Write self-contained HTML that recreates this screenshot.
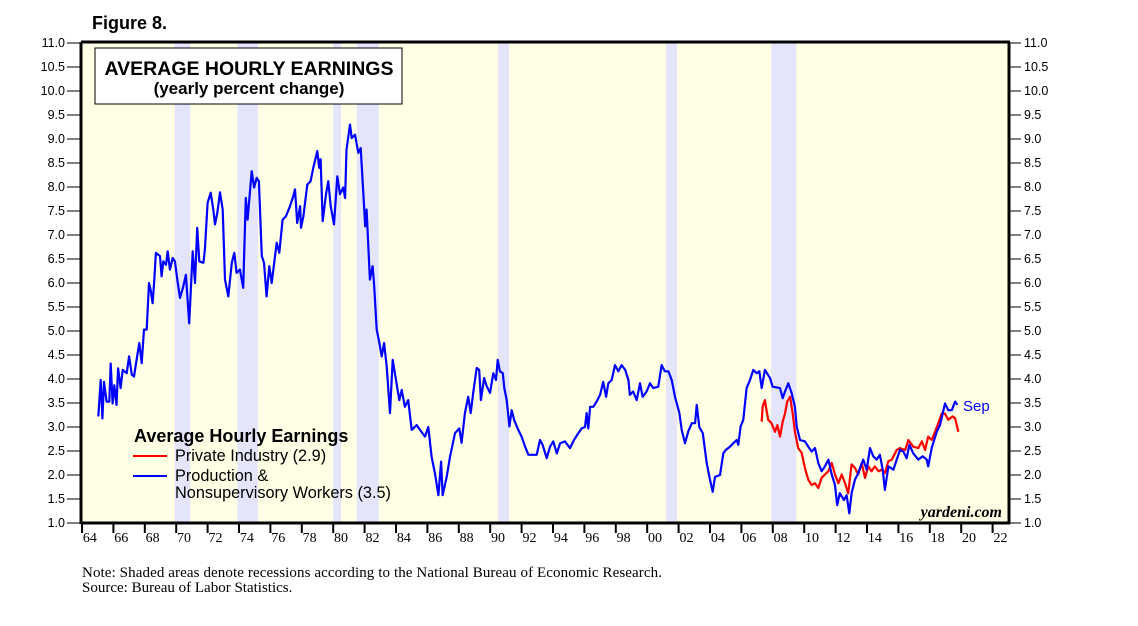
<!DOCTYPE html>
<html><head><meta charset="utf-8"><style>
body{margin:0;background:#fff;width:1138px;height:621px;overflow:hidden;font-family:"Liberation Sans",Arial,sans-serif}
</style></head><body>
<svg id="chart" width="1138" height="621" xmlns="http://www.w3.org/2000/svg">
<text x="92" y="29" font-size="18" font-weight="bold" font-family="Liberation Sans">Figure 8.</text>
<rect x="81" y="43" width="928" height="480" fill="#ffffe6"/>
<g id="rec"></g>
<g id="grid"></g>
<g id="series"></g>
<rect x="81" y="43" width="928" height="480" fill="none" stroke="#000" stroke-width="1"/>
<line x1="81" y1="42" x2="1010" y2="42" stroke="#000" stroke-width="3"/>
<line x1="81" y1="42" x2="81" y2="524" stroke="#000" stroke-width="3"/>
<line x1="81" y1="523" x2="1010" y2="523" stroke="#000" stroke-width="3"/>
<line x1="1009" y1="42" x2="1009" y2="524" stroke="#000" stroke-width="3"/>
<g>
<rect x="95" y="48" width="307" height="56" fill="#fff" stroke="#000" stroke-width="1"/>
<text x="249" y="75" font-size="19.5" font-weight="bold" text-anchor="middle">AVERAGE HOURLY EARNINGS</text>
<text x="249" y="94" font-size="17" font-weight="bold" text-anchor="middle">(yearly percent change)</text>
</g>
<g>
<text x="134" y="442" font-size="18" font-weight="bold">Average Hourly Earnings</text>
<line x1="133" y1="456" x2="167" y2="456" stroke="#f00" stroke-width="2"/>
<text x="175" y="461" font-size="16.3">Private Industry (2.9)</text>
<line x1="133" y1="476" x2="167" y2="476" stroke="#00f" stroke-width="2"/>
<text x="175" y="481" font-size="16.3">Production &amp;</text>
<text x="175" y="498" font-size="16.3">Nonsupervisory Workers (3.5)</text>
</g>
<text x="963" y="411" font-size="15" fill="#00f">Sep</text>
<text x="1002" y="517" font-size="16" font-style="italic" font-weight="bold" text-anchor="end" font-family="Liberation Serif">yardeni.com</text>
<text x="82" y="577" font-size="15" font-family="Liberation Serif" textLength="580">Note: Shaded areas denote recessions according to the National Bureau of Economic Research.</text>
<text x="82" y="592" font-size="15" font-family="Liberation Serif">Source: Bureau of Labor Statistics.</text>
</svg>
<script>
const recessions=[[1969.9,1970.9],[1973.9,1975.2],[1980.0,1980.5],[1981.5,1982.9],[1990.5,1991.2],[2001.2,2001.9],[2007.9,2009.5]];
const yTicks=[1.0,1.5,2.0,2.5,3.0,3.5,4.0,4.5,5.0,5.5,6.0,6.5,7.0,7.5,8.0,8.5,9.0,9.5,10.0,10.5,11.0];
const xTickYears=[1964,1966,1968,1970,1972,1974,1976,1978,1980,1982,1984,1986,1988,1990,1992,1994,1996,1998,2000,2002,2004,2006,2008,2010,2012,2014,2016,2018,2020,2022];
const xTickLabels=["64","66","68","70","72","74","76","78","80","82","84","86","88","90","92","94","96","98","00","02","04","06","08","10","12","14","16","18","20","22"];
const blueYears=[1965.04,1965.19,1965.3,1965.4,1965.57,1965.74,1965.83,1965.95,1966.06,1966.2,1966.3,1966.46,1966.59,1966.85,1967.0,1967.17,1967.31,1967.48,1967.65,1967.8,1967.95,1968.12,1968.27,1968.37,1968.5,1968.59,1968.71,1968.97,1969.07,1969.18,1969.35,1969.46,1969.6,1969.78,1969.92,1970.07,1970.24,1970.45,1970.62,1970.83,1971.05,1971.2,1971.34,1971.47,1971.73,1971.83,1972.0,1972.2,1972.36,1972.47,1972.62,1972.79,1972.96,1973.11,1973.32,1973.54,1973.7,1973.85,1974.06,1974.27,1974.43,1974.55,1974.81,1974.96,1975.13,1975.27,1975.45,1975.59,1975.76,1975.93,1976.08,1976.4,1976.57,1976.78,1976.99,1977.25,1977.46,1977.57,1977.71,1977.89,1977.95,1978.1,1978.35,1978.56,1978.73,1978.99,1979.11,1979.2,1979.33,1979.54,1979.69,1979.84,1980.05,1980.26,1980.43,1980.64,1980.76,1980.85,1981.07,1981.18,1981.39,1981.6,1981.75,1981.92,1982.04,1982.13,1982.34,1982.51,1982.6,1982.77,1982.94,1983.09,1983.24,1983.41,1983.62,1983.79,1984.0,1984.21,1984.36,1984.57,1984.78,1985.0,1985.32,1985.53,1985.85,1986.06,1986.27,1986.48,1986.7,1986.87,1986.97,1987.23,1987.44,1987.76,1988.03,1988.18,1988.39,1988.6,1988.76,1988.92,1989.14,1989.3,1989.41,1989.61,1989.78,1989.99,1990.2,1990.37,1990.48,1990.62,1990.8,1990.9,1991.05,1991.22,1991.37,1991.52,1991.79,1992.0,1992.22,1992.43,1992.75,1992.96,1993.17,1993.34,1993.6,1993.81,1994.02,1994.24,1994.45,1994.76,1995.08,1995.34,1995.61,1995.83,1996.04,1996.14,1996.25,1996.36,1996.57,1996.78,1997.0,1997.2,1997.38,1997.52,1997.74,1997.95,1998.16,1998.37,1998.6,1998.8,1998.9,1999.1,1999.33,1999.54,1999.71,1999.96,2000.18,2000.39,2000.71,2000.92,2001.13,2001.35,2001.56,2001.77,2002.05,2002.2,2002.41,2002.62,2002.84,2003.05,2003.15,2003.32,2003.54,2003.79,2004.0,2004.17,2004.32,2004.64,2004.85,2005.0,2005.27,2005.48,2005.7,2005.8,2005.95,2006.12,2006.33,2006.55,2006.76,2006.97,2007.14,2007.29,2007.5,2007.82,2007.99,2008.46,2008.63,2008.78,2008.99,2009.2,2009.41,2009.52,2009.73,2010.05,2010.26,2010.48,2010.69,2010.9,2011.11,2011.32,2011.54,2011.75,2011.96,2012.1,2012.27,2012.53,2012.7,2012.87,2013.02,2013.23,2013.44,2013.76,2013.98,2014.19,2014.4,2014.61,2014.82,2015.0,2015.14,2015.36,2015.68,2015.89,2016.1,2016.31,2016.53,2016.7,2016.95,2017.27,2017.55,2017.8,2017.9,2018.12,2018.44,2018.65,2018.97,2019.18,2019.4,2019.61,2019.76];
const blueValues=[3.22,3.98,3.18,3.94,3.53,3.53,4.32,3.49,3.87,3.46,4.22,3.81,4.19,4.12,4.47,4.09,4.05,4.40,4.75,4.33,5.03,5.03,6.00,5.86,5.58,6.00,6.63,6.56,6.14,6.45,6.38,6.66,6.28,6.52,6.45,6.07,5.69,5.93,6.17,5.16,6.66,6.00,7.15,6.45,6.42,6.70,7.67,7.88,7.53,7.22,7.46,7.89,7.53,6.07,5.72,6.42,6.63,6.21,6.28,5.90,7.77,7.32,8.33,7.99,8.19,8.12,6.56,6.42,5.72,6.35,6.00,6.84,6.63,7.32,7.39,7.60,7.81,7.95,7.25,7.60,7.15,7.39,8.05,8.12,8.40,8.75,8.40,8.58,7.29,7.85,8.12,7.60,7.22,8.22,7.85,7.99,7.77,8.78,9.30,9.02,9.09,8.71,8.81,7.88,7.18,7.53,6.07,6.35,6.00,5.03,4.75,4.47,4.75,4.26,3.29,4.40,3.98,3.56,3.77,3.42,3.56,2.94,3.04,2.94,2.80,3.0,2.38,2.04,1.58,2.28,1.58,1.96,2.38,2.87,2.97,2.67,3.29,3.63,3.29,3.71,4.23,4.19,3.56,4.02,3.85,3.71,4.12,3.98,4.40,4.16,4.12,3.81,3.56,3.01,3.35,3.15,2.94,2.80,2.59,2.42,2.42,2.42,2.73,2.63,2.35,2.59,2.70,2.45,2.66,2.70,2.56,2.73,2.87,2.97,3.0,3.29,2.97,3.42,3.42,3.53,3.67,3.94,3.63,3.91,3.98,4.29,4.16,4.29,4.19,3.98,3.67,3.74,3.56,3.91,3.63,3.74,3.91,3.81,3.84,4.29,4.16,4.16,3.98,3.63,3.29,2.94,2.66,2.91,3.08,3.08,3.46,3.0,2.87,2.25,1.90,1.65,1.96,2.0,2.45,2.52,2.59,2.66,2.73,2.63,3.01,3.15,3.81,3.98,4.19,4.12,4.16,3.81,4.19,4.02,3.84,3.81,3.60,3.74,3.91,3.71,3.42,3.01,2.73,2.70,2.59,2.49,2.56,2.25,2.08,2.18,2.32,2.01,1.79,1.37,1.62,1.48,1.58,1.20,1.62,1.90,2.04,2.32,2.11,2.56,2.39,2.32,2.42,2.11,1.69,2.18,2.11,2.32,2.52,2.49,2.35,2.63,2.45,2.32,2.39,2.32,2.18,2.56,2.90,3.04,3.49,3.35,3.35,3.53,3.46];
const redYears=[2007.29,2007.35,2007.5,2007.6,2007.71,2007.92,2008.14,2008.29,2008.46,2008.63,2008.78,2008.92,2009.1,2009.27,2009.41,2009.62,2009.84,2010.05,2010.26,2010.48,2010.69,2010.9,2011.11,2011.32,2011.54,2011.75,2011.96,2012.18,2012.39,2012.6,2012.8,2013.02,2013.23,2013.44,2013.66,2013.87,2014.08,2014.29,2014.5,2014.73,2014.93,2015.14,2015.36,2015.58,2015.89,2016.1,2016.43,2016.64,2016.95,2017.27,2017.49,2017.7,2017.9,2018.12,2018.33,2018.54,2018.76,2018.97,2019.18,2019.46,2019.61,2019.82];
const redValues=[3.11,3.42,3.56,3.35,3.15,3.08,2.90,3.04,2.80,3.11,3.28,3.53,3.63,3.28,2.90,2.56,2.46,2.14,1.90,1.79,1.83,1.73,1.94,2.01,2.08,2.25,2.01,1.83,2.01,1.83,1.62,2.22,2.15,2.01,2.25,1.94,2.18,2.08,2.18,2.08,2.11,2.04,2.29,2.32,2.52,2.56,2.52,2.73,2.59,2.56,2.70,2.52,2.80,2.73,2.90,3.08,3.28,3.28,3.15,3.22,3.18,2.90];

const NS='http://www.w3.org/2000/svg';
const x0=82,pxPerYear=15.7,y0=523,pxPerUnit=48;
function xs(yr){return x0+(yr-1964)*pxPerYear;}
function ys(v){return y0-(v-1)*pxPerUnit;}
function mk(tag,attrs,parent){const e=document.createElementNS(NS,tag);for(const k in attrs)e.setAttribute(k,attrs[k]);parent.appendChild(e);return e;}
const svg=document.getElementById('chart');
const rec=document.getElementById('rec'),grid=document.getElementById('grid'),ser=document.getElementById('series');
recessions.forEach(r=>{
  const e=mk('rect',{x:xs(r[0]),y:43,width:xs(r[1])-xs(r[0]),height:480,fill:'#e4e4fb'},rec);
  
  
});
yTicks.forEach(v=>{
  const y=ys(v);
  const t1=mk('line',{x1:67,y1:y,x2:81,y2:y,stroke:'#000','stroke-width':1},grid);
  
  
  const t2=mk('line',{x1:1009,y1:y,x2:1021,y2:y,stroke:'#000','stroke-width':1},grid);
  
  
  const l=mk('text',{x:65,y:y+4,'font-size':12.5,'text-anchor':'end'},svg);
  l.textContent=v.toFixed(1);
  
  
  const r=mk('text',{x:1024,y:y+4,'font-size':12.5},svg);
  r.textContent=v.toFixed(1);
  
  
});
xTickYears.forEach((yr,i)=>{
  const x=xs(yr);
  const t=mk('line',{x1:x,y1:523,x2:x,y2:533,stroke:'#000','stroke-width':2},svg);
  
  
  const l=mk('text',{x:x+pxPerYear/2,y:542,'font-size':14,'text-anchor':'middle','font-family':'Liberation Serif'},svg);
  l.textContent=xTickLabels[i];
  
  
});
function line(years,vals,color,name){
  const d=years.map((y,i)=>(i?'L':'M')+xs(y).toFixed(1)+' '+ys(vals[i]).toFixed(1)).join(' ');
  const p=mk('path',{d:d,fill:'none',stroke:color,'stroke-width':2.2,'stroke-linejoin':'round'},ser);
  
  
}
line(redYears,redValues,'#f00','private-industry-line');
line(blueYears,blueValues,'#00f','production-workers-line');
</script>
</body></html>
